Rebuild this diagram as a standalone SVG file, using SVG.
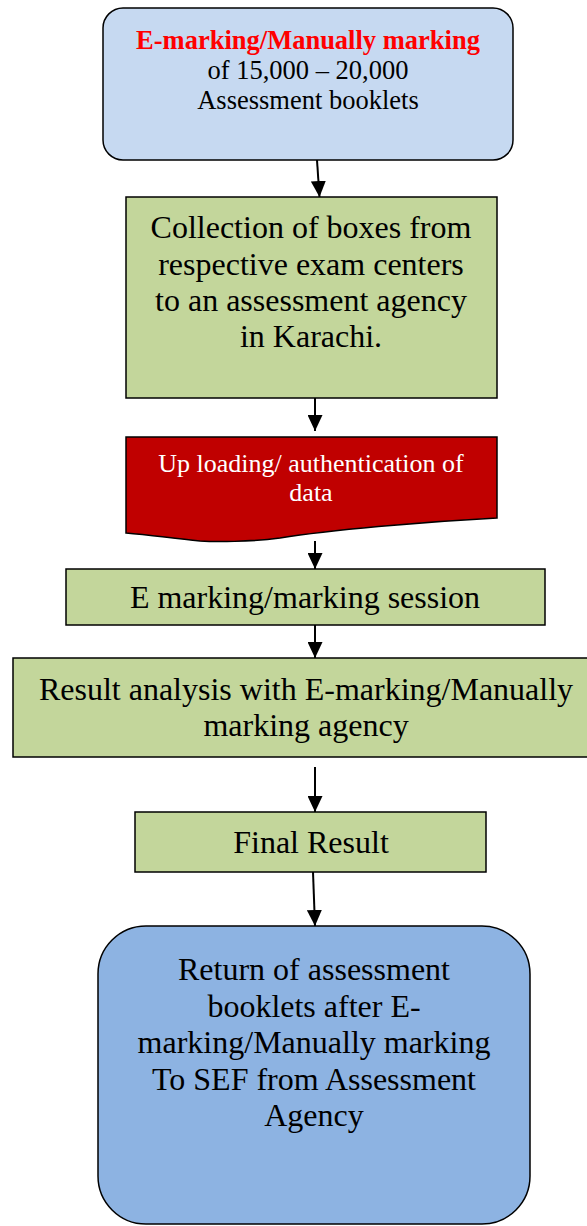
<svg xmlns="http://www.w3.org/2000/svg" width="587" height="1226" viewBox="0 0 587 1226">
<defs>
<style>
.t{font-family:"Liberation Serif","Times New Roman",serif;text-anchor:middle;fill:#000}
.b{font-size:32px}
.g{fill:#C3D69B;stroke:#000;stroke-width:1.5}
.c{stroke:#000;stroke-width:2;fill:none}
</style>
<marker id="ah" viewBox="0 0 16 15" refX="16" refY="7.5" markerWidth="16" markerHeight="15" markerUnits="userSpaceOnUse" orient="auto"><path d="M0,0 L16,7.5 L0,15 Z" fill="#000"/></marker>
</defs>
<rect width="587" height="1226" fill="#fff"/>
<g id="connectors">
<line class="c" x1="317" y1="160" x2="319.5" y2="197" marker-end="url(#ah)"/>
<line class="c" x1="315" y1="398" x2="315" y2="431" marker-end="url(#ah)"/>
<line class="c" x1="315" y1="541" x2="315" y2="569" marker-end="url(#ah)"/>
<line class="c" x1="315" y1="625" x2="315" y2="658" marker-end="url(#ah)"/>
<line class="c" x1="315" y1="767" x2="315" y2="812" marker-end="url(#ah)"/>
<line class="c" x1="313" y1="872" x2="315" y2="926" marker-end="url(#ah)"/>
</g>
<g id="n1">
<rect x="103" y="8" width="410" height="152" rx="20" fill="#C6D9F1" stroke="#000" stroke-width="1.5"/>
<text class="t" x="308" y="49" font-size="26.5" font-weight="bold" style="fill:#FF0000">E-marking/Manually marking</text>
<text class="t" x="308" y="79" font-size="26.5">of 15,000 – 20,000</text>
<text class="t" x="308" y="109" font-size="26.5">Assessment booklets</text>
</g>
<g id="n2">
<rect class="g" x="126" y="197" width="371" height="201"/>
<text class="t b" x="311" y="238">Collection of boxes from</text>
<text class="t b" x="311" y="275">respective exam centers</text>
<text class="t b" x="311" y="311">to an assessment agency</text>
<text class="t b" x="311" y="347">in Karachi.</text>
</g>
<g id="n3">
<path d="M126,437 H497 V518 C420,522 330,530 280,538 C250,542 215,542 200,541 C170,538 150,535 126,533 Z" fill="#C00000" stroke="#000" stroke-width="1.5"/>
<text class="t" x="311" y="472" font-size="26" style="fill:#fff">Up loading/ authentication of</text>
<text class="t" x="311" y="501" font-size="26" style="fill:#fff">data</text>
</g>
<g id="n4">
<rect class="g" x="66" y="569" width="479" height="56"/>
<text class="t b" x="305" y="608">E marking/marking session</text>
</g>
<g id="n5">
<rect class="g" x="13" y="658" width="580" height="99"/>
<text class="t b" x="306" y="700">Result analysis with E-marking/Manually</text>
<text class="t b" x="306" y="736">marking agency</text>
</g>
<g id="n6">
<rect class="g" x="135" y="812" width="351" height="60"/>
<text class="t b" x="311" y="853">Final Result</text>
</g>
<g id="n7">
<rect x="98" y="926" width="432" height="298" rx="48" fill="#8DB3E2" stroke="#000" stroke-width="1.5"/>
<text class="t b" x="314" y="980">Return of assessment</text>
<text class="t b" x="314" y="1017">booklets after E-</text>
<text class="t b" x="314" y="1053">marking/Manually marking</text>
<text class="t b" x="314" y="1090"> To SEF from Assessment</text>
<text class="t b" x="314" y="1126">Agency</text>
</g>
</svg>
